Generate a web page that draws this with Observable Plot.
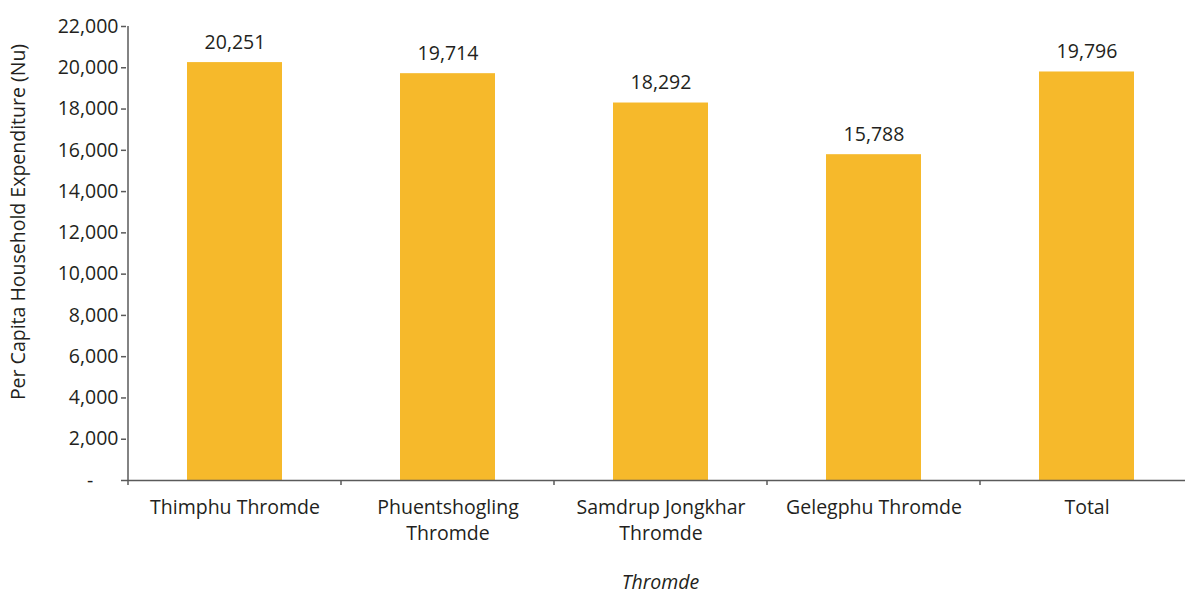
<!DOCTYPE html>
<html><head><meta charset="utf-8">
<script src="https://cdn.jsdelivr.net/npm/d3@7"></script>
<script src="https://cdn.jsdelivr.net/npm/@observablehq/plot@0.6"></script>
<style>body{margin:0;background:#fff;overflow:hidden} svg{display:block}</style>
</head><body><div id="chart"></div>
<script>
const categories = ["Thimphu Thromde","Phuentshogling Thromde","Samdrup Jongkhar Thromde","Gelegphu Thromde","Total"];
const tickLabels = ["Thimphu Thromde","Phuentshogling\nThromde","Samdrup Jongkhar\nThromde","Gelegphu Thromde","Total"];
const values = [20251,19714,18292,15788,19796];
const yTicks = [0,2000,4000,6000,8000,10000,12000,14000,16000,18000,20000,22000];
const yLabel = "Per Capita Household Expenditure (Nu)";
const xLabel = "Thromde";

const data = categories.map((c,i)=>({c, v: values[i], label: tickLabels[i]}));
const fmt = d3.format(",");
const FONT = "'Open Sans', sans-serif";
const FS = 19.5;
const ink = "#231f20";
const axisColor = "#5a5a5a";
const yMax = yTicks[yTicks.length-1];

function frameMark(index, scales, vals, dims) {
  const x = scales.x, y = scales.y;
  const bw = typeof x.bandwidth === "function" ? x.bandwidth() : x.bandwidth;
  const g = d3.create("svg:g");
  const x0 = x(categories[0]);
  g.append("line").attr("x1",x0).attr("x2",x0).attr("y1",y(yMax)).attr("y2",y(0))
    .attr("stroke",axisColor).attr("stroke-width",1.5);
  const bounds = categories.map(c=>x(c)).concat([x(categories[categories.length-1])+bw]);
  for (const b of bounds) {
    g.append("line").attr("x1",b).attr("x2",b).attr("y1",y(0)).attr("y2",y(0)+5)
      .attr("stroke",axisColor).attr("stroke-width",1.5);
  }
  const xm = (x0 + x(categories[categories.length-1]) + bw)/2;
  g.append("text").attr("x", xm).attr("y", y(0)+104).attr("text-anchor","middle")
    .attr("dominant-baseline","middle").attr("font-style","italic").attr("font-size",FS)
    .attr("fill",ink).text(xLabel);
  g.append("text").attr("transform",`translate(20,${(y(0)+y(yMax))/2 - 31}) rotate(-90)`)
    .attr("text-anchor","middle").attr("dominant-baseline","middle").attr("font-size",FS)
    .attr("fill",ink).text(yLabel);
  return g.node();
}

const chart = Plot.plot({
  width: 1185, height: 596,
  marginTop: 26, marginBottom: 116, marginLeft: 126, marginRight: 0,
  style: {fontFamily: FONT, fontSize: FS + "px", color: ink, background: "#fff"},
  x: {domain: categories, range: [126, 1194], padding: 0, axis: null},
  y: {domain: [0, yMax], axis: null},
  marks: [
    Plot.barY(data, {x: "c", y: "v", fill: "#F6B92B", insetLeft: 59, insetRight: 59}),
    Plot.axisY(yTicks, {tickSize: 5, tickPadding: 3, stroke: axisColor, strokeWidth: 1.5, fill: ink, fontSize: FS, label: null,
      tickFormat: d => d === 0 ? "-\u00a0\u00a0\u00a0\u00a0\u00a0" : fmt(d)}),
    Plot.axisX(categories, {tickSize: 0, tickPadding: 15, fontSize: FS, lineHeight: 1.33, fill: ink, label: null,
      tickFormat: d => tickLabels[categories.indexOf(d)]}),
    Plot.ruleY([0], {stroke: axisColor, strokeWidth: 1.5}),
    Plot.text(data, {x: "c", y: "v", text: d => fmt(d.v), dy: -20, fontSize: FS, fill: ink}),
    frameMark
  ]
});
document.getElementById("chart").appendChild(chart);
</script>
</body></html>
